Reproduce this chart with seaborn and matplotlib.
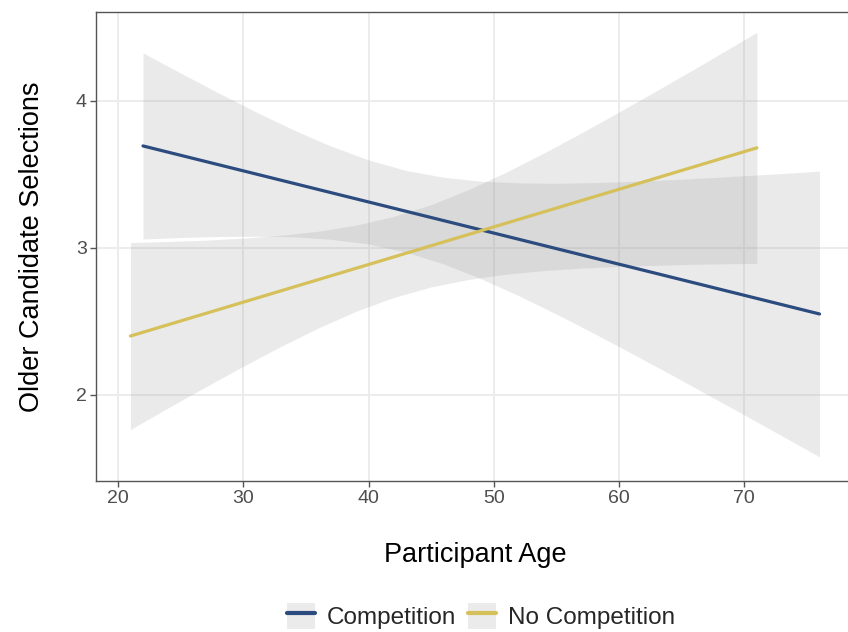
import numpy as np
import pandas as pd
import matplotlib
matplotlib.use("Agg")
import matplotlib.pyplot as plt
import seaborn as sns
from matplotlib.patches import Patch
from matplotlib.lines import Line2D
from matplotlib.legend_handler import HandlerTuple

# ---- data ----
groups = ["Competition", "No Competition"]
line_colors = ["#2C4B7E", "#D5C05A"]

comp_age = [22, 76]
comp_fit = [3.694, 2.551]
nocomp_age = [21, 71]
nocomp_fit = [2.401, 3.681]

comp_band_age = [22, 25, 28, 31, 34, 37, 40, 43, 46, 49, 52, 55, 58, 61, 64, 67, 70, 73, 76]
comp_band_lo = [3.061, 3.071, 3.078, 3.080, 3.076, 3.059, 3.027, 2.971, 2.891, 2.790,
                2.675, 2.550, 2.419, 2.283, 2.146, 2.005, 1.864, 1.722, 1.579]
comp_band_hi = [4.327, 4.190, 4.056, 3.926, 3.804, 3.693, 3.599, 3.527, 3.481, 3.454,
                3.443, 3.440, 3.445, 3.453, 3.464, 3.477, 3.492, 3.506, 3.523]

nocomp_band_age = [21, 24, 27, 30, 33, 36, 39, 42, 45, 48, 51, 54, 57, 60, 63, 66, 69, 71]
nocomp_band_lo = [1.765, 1.912, 2.055, 2.195, 2.330, 2.456, 2.569, 2.663, 2.735, 2.786,
                  2.822, 2.846, 2.863, 2.875, 2.882, 2.889, 2.893, 2.895]
nocomp_band_hi = [3.037, 3.044, 3.053, 3.067, 3.086, 3.114, 3.155, 3.215, 3.295, 3.398,
                  3.516, 3.646, 3.783, 3.925, 4.070, 4.217, 4.367, 4.467]

x_ticks = [20, 30, 40, 50, 60, 70]
y_ticks = [2, 3, 4]

# ---- build tables ----
lines_df = pd.DataFrame({
    "age": comp_age + nocomp_age,
    "fit": comp_fit + nocomp_fit,
    "group": [groups[0]] * len(comp_age) + [groups[1]] * len(nocomp_age),
})

sns.set_theme(style="white")
plt.rcParams["font.family"] = ["Liberation Sans", "DejaVu Sans"]

fig = plt.figure(figsize=(8.48, 6.32), dpi=100)
ax = fig.add_axes([96 / 848, (632 - 481) / 632, 758 / 848, 469 / 632])

band_color = "#999999"
ax.fill_between(comp_band_age, comp_band_lo, comp_band_hi, color=band_color,
                alpha=0.2, linewidth=0, zorder=2)
ax.fill_between(nocomp_band_age, nocomp_band_lo, nocomp_band_hi, color=band_color,
                alpha=0.2, linewidth=0, zorder=2)

sns.lineplot(data=lines_df, x="age", y="fit", hue="group", hue_order=groups,
             palette=dict(zip(groups, line_colors)), linewidth=2.3, ax=ax,
             legend=False, zorder=3)

ax.set_xlim(18.25, 78.75)
ax.set_ylim(1.415, 4.605)
ax.set_xticks(x_ticks)
ax.set_yticks(y_ticks)
ax.set_xticklabels([str(v) for v in x_ticks])
ax.set_yticklabels([str(v) for v in y_ticks])

ax.grid(True, color="#EBEBEB", linewidth=1.3, zorder=0)
ax.set_axisbelow(True)
for s in ax.spines.values():
    s.set_color("#555555")
    s.set_linewidth(1.0)
    s.set_visible(True)

ax.tick_params(axis="both", which="major", length=4, width=1.0, color="#555555",
               labelsize=14, labelcolor="#4D4D4D", pad=2.5, direction="out",
               bottom=True, left=True)

ax.set_xlabel("Participant Age", fontsize=19.5, color="black")
ax.set_ylabel("Older Candidate Selections", fontsize=19.5, color="black")
ax.xaxis.label.set_va("center")
ax.yaxis.label.set_va("center")
ax.xaxis.set_label_coords(0.501, (481 - 555) / 469)
ax.yaxis.set_label_coords((32 - 96) / 758, 0.5)

handles = [
    (Patch(facecolor="#EBEBEB", edgecolor="none"),
     Line2D([0], [0], color=c, linewidth=3.0))
    for c in line_colors
]
fs = 17.5
fig.legend(handles, groups, loc="center", bbox_to_anchor=(481 / 848, 1 - 616 / 632),
           ncol=2, frameon=False, fontsize=fs,
           handler_map={tuple: HandlerTuple(ndivide=1, pad=0)},
           handlelength=1.15, handleheight=1.25, handletextpad=0.5,
           columnspacing=0.5, borderpad=0, borderaxespad=0)

fig.savefig("out.png", dpi=100)
